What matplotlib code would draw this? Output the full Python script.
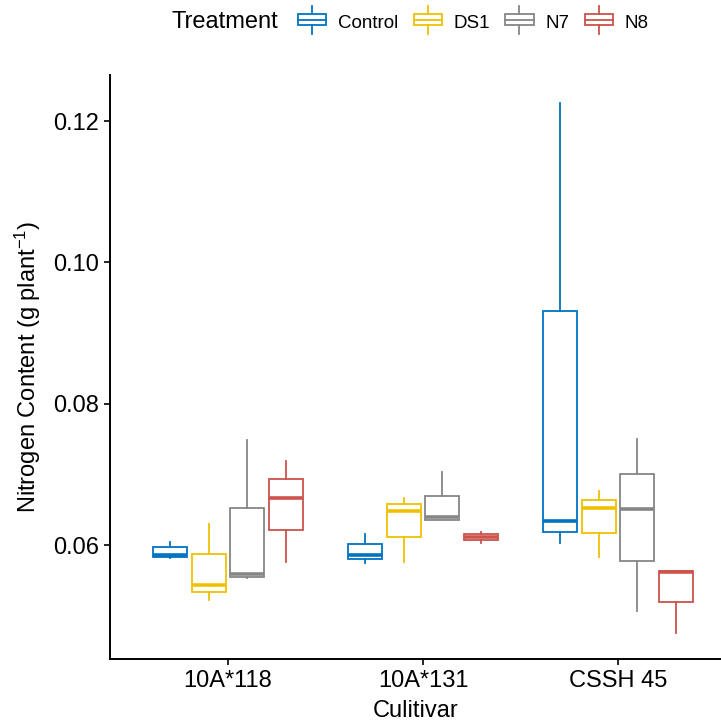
import numpy as np
import matplotlib
matplotlib.use('Agg')
import matplotlib.pyplot as plt
from matplotlib.patches import Rectangle
from matplotlib.lines import Line2D
from matplotlib.legend_handler import HandlerBase

plt.rcParams['font.family'] = ['Liberation Sans', 'DejaVu Sans']
plt.rcParams['mathtext.fontset'] = 'custom'
plt.rcParams['mathtext.rm'] = 'Liberation Sans'
plt.rcParams['mathtext.default'] = 'regular'

# data (box stats per cultivar)
cultivars = ['10A*118', '10A*131', 'CSSH 45']
treatments = ['Control', 'DS1', 'N7', 'N8']
colors = ['#0073C2', '#EFC000', '#868686', '#CD534C']

whislo = {'Control': [0.0581, 0.0574, 0.0603],
          'DS1': [0.0522, 0.0576, 0.0583],
          'N7': [0.0553, 0.0636, 0.0507],
          'N8': [0.0576, 0.0603, 0.0475]}
q1 = {'Control': [0.0583, 0.0580, 0.0619],
      'DS1': [0.0533, 0.0612, 0.0617],
      'N7': [0.0555, 0.0636, 0.0578],
      'N8': [0.0621, 0.0607, 0.0519]}
med = {'Control': [0.0586, 0.0586, 0.0634],
       'DS1': [0.0543, 0.0648, 0.0652],
       'N7': [0.0559, 0.0639, 0.0651],
       'N8': [0.0667, 0.0612, 0.0562]}
q3 = {'Control': [0.0597, 0.0601, 0.0931],
      'DS1': [0.0587, 0.0658, 0.0664],
      'N7': [0.0653, 0.0670, 0.0700],
      'N8': [0.0693, 0.0616, 0.0563]}
whishi = {'Control': [0.0604, 0.0616, 0.1226],
          'DS1': [0.0630, 0.0667, 0.0676],
          'N7': [0.0748, 0.0704, 0.0750],
          'N8': [0.0719, 0.0618, 0.0563]}

W, H = 721, 721
fig = plt.figure(figsize=(W / 100, H / 100), dpi=100)
ax = fig.add_axes([110 / W, 62 / H, (W - 110) / W, (659 - 75) / H])

step = 0.197
bw = 0.175
for i, t in enumerate(treatments):
    stats = []
    for j in range(len(cultivars)):
        stats.append(dict(whislo=whislo[t][j], q1=q1[t][j], med=med[t][j],
                          q3=q3[t][j], whishi=whishi[t][j], fliers=[]))
    pos = np.arange(len(cultivars)) + (i - 1.5) * step
    c = colors[i]
    ax.bxp(stats, positions=pos, widths=bw, showcaps=False, showfliers=False,
           patch_artist=True, manage_ticks=False,
           boxprops=dict(facecolor='white', edgecolor=c, linewidth=1.3),
           whiskerprops=dict(color=c, linewidth=1.3),
           medianprops=dict(color=c, linewidth=2.6, solid_capstyle='butt'))

# y scale: 0.06 at 545px, 0.02 per 141.3px
px = 0.02 / 141.3
ax.set_ylim(0.06 - (659 - 545) * px, 0.06 + (545 - 75) * px)
ax.set_xlim(-(228 - 110) / 195, -(228 - 110) / 195 + (W - 110) / 195)
ax.set_yticks([0.06, 0.08, 0.10, 0.12])
ax.set_yticklabels(['0.06', '0.08', '0.10', '0.12'])
ax.set_xticks(range(len(cultivars)))
ax.set_xticklabels(cultivars)
ax.spines['top'].set_visible(False)
ax.spines['right'].set_visible(False)
for s in ['left', 'bottom']:
    ax.spines[s].set_linewidth(1.4)
ax.tick_params(labelsize=17, colors='black', length=4, width=1.2, pad=4)
ax.set_xlabel('Culitivar', fontsize=17, labelpad=6)
ax.set_ylabel(r'Nitrogen Content (g plant$^{-1}$)', fontsize=17, labelpad=7)


class BoxKey(HandlerBase):
    # sizes in points (legend draws in points)
    def create_artists(self, legend, orig_handle, xdescent, ydescent,
                       width, height, fontsize, trans):
        c = orig_handle.get_edgecolor()
        bh = 8
        wl = 6
        y0 = height / 2 - bh / 2 - ydescent + 1.5
        r = Rectangle((-xdescent, y0), width, bh, facecolor='white',
                      edgecolor=c, linewidth=1.3, transform=trans)
        m = Line2D([-xdescent, -xdescent + width], [y0 + bh / 2] * 2,
                   color=c, linewidth=1.3, transform=trans)
        xc = -xdescent + width / 2
        w1 = Line2D([xc, xc], [y0 + bh, y0 + bh + wl], color=c, linewidth=1.3,
                    transform=trans)
        w2 = Line2D([xc, xc], [y0 - wl, y0], color=c, linewidth=1.3,
                    transform=trans)
        return [r, m, w1, w2]


handles = [Rectangle((0, 0), 1, 1, facecolor='white', edgecolor=c) for c in colors]
fig.text(171 / W, 1 - 22 / H, 'Treatment', fontsize=17, va='center', ha='left')
leg = fig.legend(handles, treatments, loc='center left',
                 bbox_to_anchor=(298 / W, 1 - 23 / H), ncol=4, frameon=False,
                 fontsize=13.5, handler_map={Rectangle: BoxKey()},
                 handlelength=1.5, handleheight=1.0, handletextpad=0.65,
                 columnspacing=0.8, borderpad=0, borderaxespad=0)

fig.savefig('out.png', dpi=100)
